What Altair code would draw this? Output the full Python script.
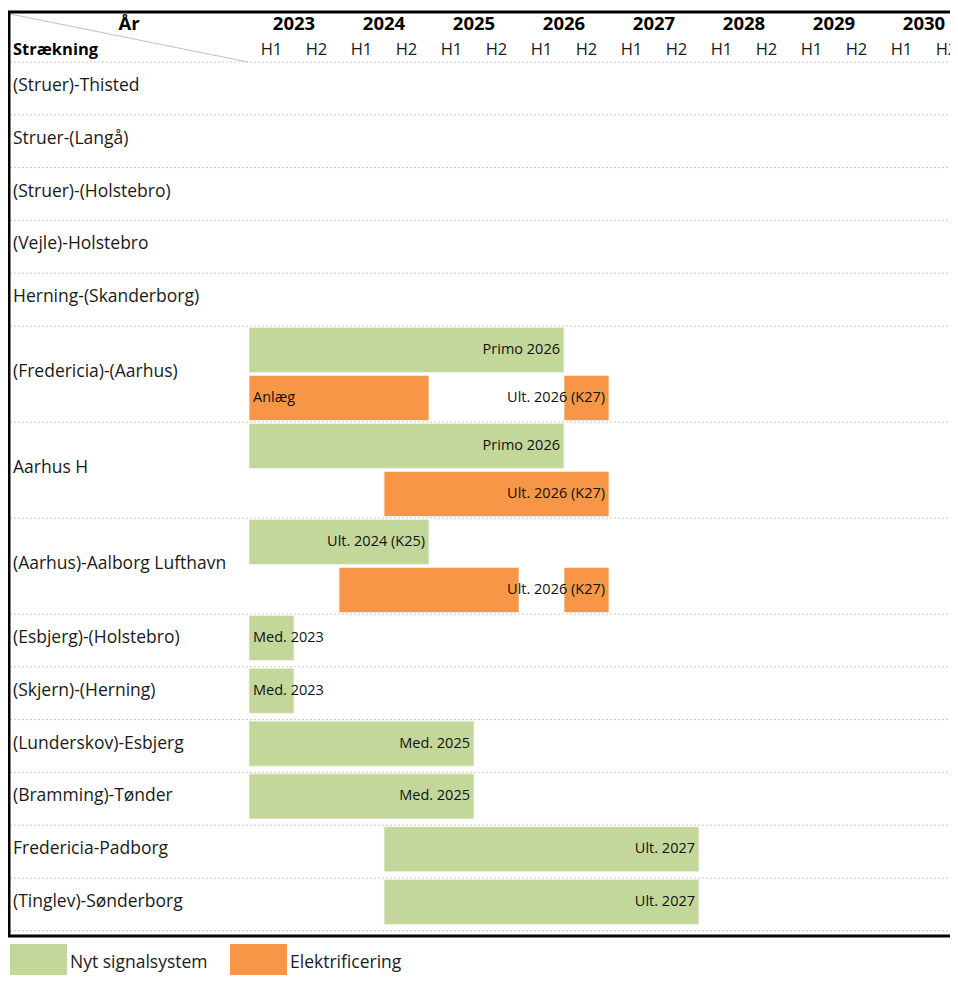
import altair as alt
import pandas as pd

# ---------------- data ----------------
routes = [
    "(Struer)-Thisted", "Struer-(Langå)", "(Struer)-(Holstebro)", "(Vejle)-Holstebro",
    "Herning-(Skanderborg)", "(Fredericia)-(Aarhus)", "Aarhus H", "(Aarhus)-Aalborg Lufthavn",
    "(Esbjerg)-(Holstebro)", "(Skjern)-(Herning)", "(Lunderskov)-Esbjerg", "(Bramming)-Tønder",
    "Fredericia-Padborg", "(Tinglev)-Sønderborg",
]
route_lanes = [1, 1, 1, 1, 1, 2, 2, 2, 1, 1, 1, 1, 1, 1]

years = [2023, 2024, 2025, 2026, 2027, 2028, 2029, 2030]
halves = ["H1", "H2"]

categories = ["Nyt signalsystem", "Elektrificering"]
cat_colors = ["#C4D79B", "#F79646"]

bar_route = [
    "(Fredericia)-(Aarhus)", "(Fredericia)-(Aarhus)", "(Fredericia)-(Aarhus)",
    "Aarhus H", "Aarhus H",
    "(Aarhus)-Aalborg Lufthavn", "(Aarhus)-Aalborg Lufthavn", "(Aarhus)-Aalborg Lufthavn",
    "(Esbjerg)-(Holstebro)", "(Skjern)-(Herning)", "(Lunderskov)-Esbjerg", "(Bramming)-Tønder",
    "Fredericia-Padborg", "(Tinglev)-Sønderborg",
]
bar_lane = [0, 1, 1, 0, 1, 0, 1, 1, 0, 0, 0, 0, 0, 0]
bar_type = [
    "Nyt signalsystem", "Elektrificering", "Elektrificering",
    "Nyt signalsystem", "Elektrificering",
    "Nyt signalsystem", "Elektrificering", "Elektrificering",
    "Nyt signalsystem", "Nyt signalsystem", "Nyt signalsystem", "Nyt signalsystem",
    "Nyt signalsystem", "Nyt signalsystem",
]
bar_start = [2023.0, 2023.0, 2026.5, 2023.0, 2024.5, 2023.0, 2024.0, 2026.5,
             2023.0, 2023.0, 2023.0, 2023.0, 2024.5, 2024.5]
bar_end = [2026.5, 2025.0, 2027.0, 2026.5, 2027.0, 2025.0, 2026.0, 2027.0,
           2023.5, 2023.5, 2025.5, 2025.5, 2028.0, 2028.0]
bar_label = ["Primo 2026", "Anlæg", "Ult. 2026 (K27)", "Primo 2026", "Ult. 2026 (K27)",
             "Ult. 2024 (K25)", "", "Ult. 2026 (K27)", "Med. 2023", "Med. 2023",
             "Med. 2025", "Med. 2025", "Ult. 2027", "Ult. 2027"]
bar_label_at_start = [False, True, False, False, False, False, False, False,
                      True, True, False, False, False, False]

# ---------------- layout ----------------
W, H = 942, 967
X0_PX, PX_PER_YEAR = 241, 90          # where 2023.0 sits, px per year
Y0_PX, PX_PER_LANE = 54, 48           # header bottom, px per lane unit
ROW_UNITS = {1: 1.1, 2: 2.0}

x_scale = alt.Scale(domain=[2023 - X0_PX / PX_PER_YEAR, 2023 + (W - X0_PX) / PX_PER_YEAR],
                    nice=False, zero=False)
y_scale = alt.Scale(domain=[-Y0_PX / PX_PER_LANE, (H - Y0_PX) / PX_PER_LANE],
                    nice=False, zero=False, reverse=True)
color_scale = alt.Scale(domain=categories, range=cat_colors)

row_top = {}
boundaries = [0.0]
acc = 0.0
for r, n in zip(routes, route_lanes):
    row_top[r] = acc
    acc += ROW_UNITS[n]
    boundaries.append(acc)

routes_df = pd.DataFrame({
    "route": routes,
    "yc": [row_top[r] + ROW_UNITS[n] / 2 - 0.05 for r, n in zip(routes, route_lanes)],
})
bars_df = pd.DataFrame({
    "route": bar_route, "lane": bar_lane, "type": bar_type,
    "start": bar_start, "end": bar_end, "label": bar_label, "at_start": bar_label_at_start,
})
bars_df["y1"] = [row_top[r] + l + 0.03 for r, l in zip(bar_route, bar_lane)]
bars_df["y2"] = [row_top[r] + l + 0.97 for r, l in zip(bar_route, bar_lane)]
bars_df["yc"] = (bars_df["y1"] + bars_df["y2"]) / 2
lab_start = bars_df[(bars_df["label"] != "") & bars_df["at_start"]]
lab_end = bars_df[(bars_df["label"] != "") & ~bars_df["at_start"]]

years_df = pd.DataFrame({"x": [y + 0.5 for y in years], "t": [str(y) for y in years]})
halves_df = pd.DataFrame({
    "x": [y + 0.25 + 0.5 * i for y in years for i in range(2)],
    "t": [h for _ in years for h in halves],
})
lines_df = pd.DataFrame({"y": boundaries})

FONT = "Open Sans"
one = alt.Data(values=[{}])

# ---------------- layers ----------------
grid = alt.Chart(lines_df).mark_rule(color="#c8c8c8", strokeDash=[2, 2], strokeWidth=1).encode(
    y=alt.Y("y:Q", scale=y_scale, axis=None), x=alt.value(2), x2=alt.value(W))

diag = alt.Chart(one).mark_rule(color="#c0c0c0", strokeWidth=1).encode(
    x=alt.value(2), y=alt.value(6), x2=alt.value(X0_PX - 1), y2=alt.value(Y0_PX))

bars = alt.Chart(bars_df).mark_rect(stroke="#f4f4f0", strokeWidth=0.8).encode(
    x=alt.X("start:Q", scale=x_scale, axis=None), x2="end:Q",
    y=alt.Y("y1:Q", scale=y_scale, axis=None), y2="y2:Q",
    color=alt.Color("type:N", scale=color_scale, legend=None))

txt_end = alt.Chart(lab_end).mark_text(align="right", baseline="middle", dx=-4,
                                        font=FONT, fontSize=14.5, color="#111").encode(
    x=alt.X("end:Q", scale=x_scale, axis=None),
    y=alt.Y("yc:Q", scale=y_scale, axis=None), text="label:N")
txt_start = alt.Chart(lab_start).mark_text(align="left", baseline="middle", dx=4,
                                            font=FONT, fontSize=14.5, color="#111").encode(
    x=alt.X("start:Q", scale=x_scale, axis=None),
    y=alt.Y("yc:Q", scale=y_scale, axis=None), text="label:N")

route_txt = alt.Chart(routes_df).mark_text(align="left", baseline="middle",
                                            font=FONT, fontSize=17.5, color="#1a1a1a").encode(
    x=alt.value(5), y=alt.Y("yc:Q", scale=y_scale, axis=None), text="route:N")

year_txt = alt.Chart(years_df).mark_text(baseline="middle", font=FONT, fontSize=18.5,
                                          fontWeight="bold", color="#000").encode(
    x=alt.X("x:Q", scale=x_scale, axis=None), y=alt.value(16), text="t:N")
half_txt = alt.Chart(halves_df).mark_text(baseline="middle", font=FONT, fontSize=16.5,
                                           color="#1a1a1a").encode(
    x=alt.X("x:Q", scale=x_scale, axis=None), y=alt.value(42), text="t:N")

aar = alt.Chart(alt.Data(values=[{"t": "År"}])).mark_text(
    baseline="middle", font=FONT, fontSize=18.5, fontWeight="bold", color="#000").encode(
    x=alt.value(121), y=alt.value(16), text="t:N")
straek = alt.Chart(alt.Data(values=[{"t": "Strækning"}])).mark_text(
    align="left", baseline="middle", font=FONT, fontSize=16.5, fontWeight="bold", color="#000").encode(
    x=alt.value(5), y=alt.value(42), text="t:N")

frame = alt.Chart(one).mark_rect(fill=None, stroke="#000", strokeWidth=3).encode(
    x=alt.value(1), x2=alt.value(W + 20), y=alt.value(4), y2=alt.value(928))

legend_layers = []
for i, cat in enumerate(categories):
    d = alt.Data(values=[{"type": cat}])
    lx = 2 + 220 * i
    legend_layers.append(alt.Chart(d).mark_rect().encode(
        x=alt.value(lx), x2=alt.value(lx + 57), y=alt.value(936), y2=alt.value(H + 10),
        color=alt.Color("type:N", scale=color_scale, legend=None)))
    legend_layers.append(alt.Chart(d).mark_text(
        align="left", baseline="middle", font=FONT, fontSize=17.5, color="#1a1a1a").encode(
        x=alt.value(lx + 60), y=alt.value(955), text="type:N"))

chart = alt.layer(
    grid, diag, bars, txt_end, txt_start, route_txt, year_txt, half_txt, aar, straek, frame,
    *legend_layers
).properties(
    width=W, height=H, padding=0, autosize=alt.AutoSizeParams(type="none"),
    background="white"
).configure_view(stroke=None)

chart.save("out.html", embed_options={"renderer": "svg", "actions": False})
